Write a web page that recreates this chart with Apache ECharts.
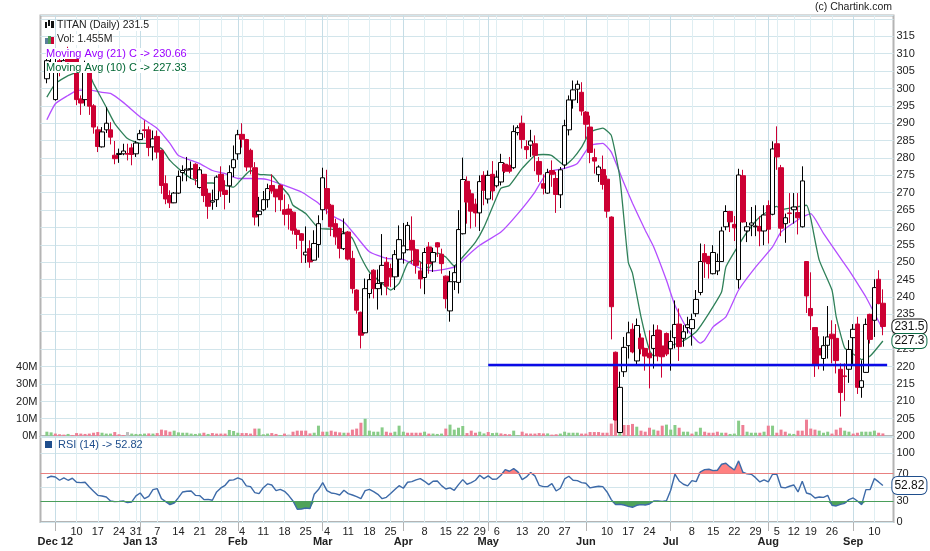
<!DOCTYPE html>
<html><head><meta charset="utf-8">
<style>html,body{margin:0;padding:0;background:#fff}#c{width:930px;height:551px}</style>
<script src="https://cdn.jsdelivr.net/npm/echarts@6/dist/echarts.min.js"></script>
</head><body><div id="c"></div>
<script>
// [open, close, low, high] per trading day
const candles = [
[302.8,308,301.5,310],[305,307,304.5,309],[296.8,306,296.5,309],[308,305,303.5,309],[305,308,304.5,311],[311,307,305,312],[310,306,305,311],[309,296.8,295.2,310],[297,295.8,292.4,298],[296.8,306,295,308],
[306,294.9,292.4,307],[295,288.9,287,295.5],[288.1,283.3,281.7,289.1],[283.2,287.5,283,288.9],[288.1,290,287.2,294.6],[288.1,286,283.9,290.3],[280.8,279.8,278.2,284.9],[281,281.3,278.6,282.7],[281.2,282,280.8,284.1],[281.3,281.1,279.3,284.1],
[282.9,281,277.9,284.1],[281.2,284.3,280.3,284.9],[285.3,287,285.1,288.1],[288.1,287.9,285.8,290.8],[288.1,283,280.5,289.1],[283.2,285.5,279.3,287.9],[286.2,281.7,279.8,287.9],[282.2,272.1,269.7,282.4],[272.6,268.2,266.7,275],[269.2,267.1,265.6,270.7],
[267.1,269.9,267,270.2],[269.9,274.7,269.7,276.4],[275.8,276.4,273.3,277.9],[276.5,276.8,273.3,280.3],[276.8,276.9,274,279],[278.2,274.1,272.2,278.5],[271.5,276.6,271.2,277.4],[275.3,269.2,267.3,275.4],[269.8,266.1,262.5,271.2],[267.3,267.7,265.1,270.9],
[268,274.5,265.9,275],[275.3,270.5,268.8,277.6],[270.7,269.5,265.2,273.6],[272,275.8,267.1,277.9],[277.2,279.5,274.5,283.6],[281.2,286.7,279.5,288.1],[286.8,285.4,283,290],[285.3,277.4,276.2,285.5],[282.2,277.4,275.3,282.7],[277.2,263,260.6,278.8],
[263.7,264.7,260.3,268.8],[265.1,268,264.7,270.5],[268,271.2,265.7,272.6],[272.1,270.5,269.7,275.3],[271,268.8,264.4,271.1],[272.1,268,264.7,272.4],[265.1,263.8,260.6,269.5],[265.3,263.8,259.4,266.7],[264.4,259.2,258,264.7],[259.2,258,253.8,259.7],
[258.2,256.3,249.8,258.4],[252.1,252.9,249.8,260.3],[253.9,250.1,248.4,256.3],[250.6,255.4,250.4,259.2],[255.1,261.1,251.3,263.5],[265.1,274.3,262.1,277.2],[271.2,265.4,263.8,276.6],[266.4,260.2,257.5,266.8],[261.1,257.3,255,262.5],[259.7,254,251.1,260],
[253.9,258.2,253.5,262.6],[258.7,250.9,250.5,259],[251.1,242.4,241,253.3],[242,236.2,235.2,242.2],[235.6,229,225.2,235.8],[229.7,242.4,229.5,245.3],[241,245,239.6,246.7],[247.7,242.4,239.6,248],[242.4,243.9,236.4,247.9],[244.1,249.1,240.5,258.1],
[250,243.1,240.5,251.5],[248.2,245.8,242.9,249.6],[245.8,252.2,242,253.5],[250.9,256.5,245.8,260.6],[252.7,254.7,249.6,261.3],[253.6,260.6,253.4,261.6],[256.3,253.5,249.6,263.2],[253.6,249.1,246.7,253.9],[247.5,245.2,242.4,250.1],[245.6,252.8,240.8,254.1],
[254.4,249.6,246.7,255.8],[250.1,252.8,247.2,254.2],[255.6,254.4,251.5,255.8],[252.3,249.6,246.7,253.9],[246,239.5,236.7,246.2],[236,244.4,232.9,247.5],[244.4,247,242,249.1],[244.2,259.4,241,265],[258.2,273.8,258,280.1],[273.3,267.3,261.1,274.7],
[269.7,264.7,259.7,270.9],[266.7,264.2,260.2,268.3],[264.2,273.2,259,275],[275,270.7,266.4,276.2],[268.2,275,266.9,276.4],[275.3,270.5,267.8,279.1],[272,274.5,271.5,276.4],[273.1,278.7,272.1,281.2],[278.2,276.2,275.7,278.6],[277.9,276.2,275.6,280.3],
[277.2,287.6,276.8,289.4],[287.3,288.7,286.5,289.4],[290,285.3,282.7,292.2],[283.3,282.4,279.7,285.1],[283.7,284.9,280.3,288.1],[284.1,280.8,276.2,286.5],[279,275.3,273.1,280.3],[272.6,271.3,269.5,275.3],[269.9,275.8,269.7,276.9],[276.4,275.3,271.7,279.3],
[274.1,269.5,264.2,276],[269.4,276.6,265.6,277.4],[278,289.3,276.9,291],[288.1,296.7,286.5,298],[296.7,299.6,294.2,302.3],[299.8,301.2,295.8,302.3],[298.9,293.5,292.2,301.8],[293.2,289.7,285.5,293.5],[288.9,281.6,278.5,292.2],[280.1,279.1,275.5,282.7],
[275.2,277.4,273.1,277.9],[276.7,272.4,270.9,280.7],[273.9,264.7,262.8,275],[263,237.2,227.8,263.2],[224.1,204.6,204.5,224.3],[201,214,201,218.5],[218.5,225.5,217,228.5],[226,229.7,222.3,232.9],[230.7,224.2,223.8,232.4],[221.6,231.8,220.6,233.8],
[228.2,225.1,223.5,229.5],[225.2,223,218.8,225.4],[223.8,222.5,213.7,230.4],[225.2,228.9,219.4,232.1],[230.5,223,221.5,231.9],[225.9,222.8,216.8,230.4],[229.5,223.6,223,229.8],[225.1,227.2,218.8,230.4],[228.3,232.1,225.2,239],[232.2,225.7,221.6,236.7],
[228.1,230,225.7,231.9],[231.2,232,229.5,234.3],[230.9,233.5,226,235.2],[235.2,239.3,234.3,242],[241.3,250.2,240.5,255.4],[252.5,250.1,245.5,255.2],[251.7,249.6,245.3,251.8],[246.7,252.8,246.5,254.9],[247.5,250.2,246.3,252.5],[250.2,259,250.1,260.2],
[260.2,264.6,259.2,266.4],[264.6,261.6,258.7,264.8],[260.9,259.9,256.1,263.3],[245,275.1,242.4,276.9],[274.9,261.6,261.4,276.6],[259,260.2,255.8,261.6],[260.7,261.3,257.5,265.9],[260.2,260.4,257.5,266.4],[260.3,259,254.6,263.2],[259,263.6,254.9,266.4],
[266.3,259.5,255.4,267.8],[263.8,282.6,263.5,284.8],[284.1,280.3,276.6,289.1],[277.2,259.8,257.5,278],[261.1,262.8,255.6,264],[264.2,264,261.3,269.9],[265.1,265.9,261.1,269.9],[264.3,262.8,258,269.9],[260.2,273.4,260,277.6],[250.2,240.3,235.4,250.3],
[236.7,234.6,230.5,247.1],[231.2,220.7,217,231.3],[225.2,223.3,219.2,228.7],[222.3,226,218.8,228.7],[226.1,228.5,222.3,237.4],[229.3,228,220.9,233.3],[228.1,221.7,218,232.2],[219.2,212.5,205.6,220.9],[217.3,217.1,210.1,220.9],[219.2,224.9,215.3,227.6],
[228.3,230.7,220.4,232.2],[232.2,214,212.1,234.3],[214,215.9,211,221.8],[218.3,232.1,218.2,233.8],[235,227.8,226.6,235.2],[233.3,242.7,228.5,245.1],[245.1,238.1,237.9,247.7],[238.2,231.5,229,242.2]
];
// volume in millions
const volumes = [
2.5,2.1,1.4,1,0.8,1.2,0.6,1.7,1.4,1.2, 1.4,1.9,2.3,1.9,1.4,1.4,2.3,1,0.6,2.3, 1.4,1.2,1.2,1.4,1.5,1.4,1.7,3.7,3.3,2.5,
3.1,2.1,1.9,1.9,1.4,1.2,1.5,1.9,1.2,1.7, 1.4,1.4,1.4,3.5,2.9,1.9,1.7,1.7,1.4,4.3, 4.3,1,1.4,1.7,1.2,0.6,1.4,0.8,2.5,3.1,
3.1,3.1,1.5,1.9,6,2.5,2.5,3.1,2.5,2.1, 1.9,1.9,3.7,4.3,7.7,10,3.1,2.5,2.5,5, 2.5,1.9,2.5,6,2.5,1.9,1.9,1.9,1.9,2.5,
1.4,1.4,1.2,1.4,4.3,6.6,3.7,4.8,5.8,1.7, 3.1,1.9,2.5,1.5,2.3,1.7,1.9,1.5,1.2,1, 3.1,0.4,2.5,1.5,1.4,1.4,1.7,1.5,1.5,0.8,
1,1.4,2.5,1.9,1.9,1.9,1.4,1.4,2.3,2.3, 2.3,1.9,1.9,7.2,9.7,8.3,6.4,6.4,7,5.4, 3.1,2.5,4.8,3.7,3.1,6,6.6,3.7,6.4,4.8,
2.5,2.5,1.4,2.5,4.8,2.5,1.9,1.9,2.5,1.9, 1.9,1.2,1.4,8.9,6.4,2.5,1.9,1.9,1.9,2.5, 6,6,1.9,3.7,2.5,1.4,1.2,3.1,3.1,9.5,
4.3,3.7,3.1,1.9,2.5,1.4,3.7,4.8,3.1,2.5, 1.4,1.9,2.5,2.5,2.5,3.1,1.9,1.5
];
const volumeTone =
"ggrrrgrrrr"+"rrrgggrrrn"+"ggggrgrrrr"+"gggggggrgr"+"rrrgggrrrr"+"gggrrgrnrr"+"rrrggrgrrr"+"grrrrggggg"+"rrgggrrrrg"+"rgggrggggr"+
"rrggrggrrr"+"ggrrrrrrgr"+"rgggggrrrr"+"rrrrrgrrrg"+"rrrgrrgggr"+"ggrggrrrrg"+"rgggrgggrg"+"rgrrrggrrr"+"rrgggrrrgg"+"rrggggrr";
const rsi = [
63.8,66.2,65.2,60.4,63.8,60.4,63.3,57.5,57,57.5, 50.7,44.4,38.6,37.7,36.2,30.4,29.5,29.9,30.4,28,
29,37.7,42,33.8,37.2,46.9,48.3,33.8,29.5,25.1, 27.5,35.3,43.5,44.4,44.9,38.6,38.2,32.4,32.8,31.4,
43.5,49.3,53.1,60.4,60.9,63.8,61.3,52.2,51.2,42.5, 41.1,49.7,55.1,53.6,45.4,47.3,44.4,38.2,30.4,18.4,
18.8,20.3,19.3,40.1,46.9,57,45.4,42,41.1,39.1, 45.9,41.1,39.1,36.7,33.8,45.4,47.3,44,40.1,33.8,
35.7,41.1,46.9,52.6,48.8,57.5,58.4,60.9,62.8,58.9, 54.1,58.9,59.4,52.6,47.8,49.3,45.9,54.1,61.3,54.6,
57,60.4,67.6,62.8,66.7,61.8,62.3,67.6,75.8,73.4, 77.3,72.5,61.3,65.2,71.5,66.7,53.1,51.2,51.2,55.5,
44.9,48.8,62.3,66.2,60.4,59.9,57,56,49.3,50.7, 51.7,51.2,43.5,32.4,25.1,25.6,24.6,22.7,21.3,24.2,
25.1,24.6,26.1,30.4,30.4,29.9,30.9,45.9,69.1,59.4, 54.6,52.2,59.9,58.4,72.5,75.8,76.3,74.4,74.9,83.6,
85,79.7,75.3,88.4,72,69.6,69.1,64.2,58,60.9, 58,69.1,69.1,50.2,49.3,51.7,53.6,43.5,58.9,42,
40.1,34.8,36.2,35.7,38.6,24.2,23.2,25.6,27,32.4, 34.8,30.4,25.1,46.9,46.9,62.8,58,52.82
];
// moving averages: [trading-day number, value]
const ma10 = [[0,297.5],[2,301.4],[5,303.7],[8,305],[10,304],[11,301.4],[14,294.6],[16,289.9],[19,285.6],[22,284.2],[24,284.2],[27,282.7],[29,279.3],[31,277],[34,274.1],[37,272.8],[39,272.8],[42,272.1],[44,271.6],[46,274.1],[48,276.4],[50,275.3],[53,275],[55,272.1],[57,269.3],[58,266.4],[61,264],[64,259.8],[67,259.5],[70,258.6],[72,256.9],[74,251.5],[76,247.2],[79,243.9],[81,242],[83,243.9],[85,249.7],[87,250.8],[90,248.3],[92,252.7],[94,251.5],[96,248.9],[98,251.5],[101,255.8],[103,260.1],[106,268.8],[107,271.3],[109,272.1],[112,277],[115,280.7],[117,281],[119,280.7],[122,277.9],[124,279.9],[126,283.1],[128,287.4],[131,288.6],[133,286.5],[135,274.5],[137,250],[138,246.8],[140,234.3],[142,224.7],[143,223],[146,225.7],[148,226.4],[150,227.4],[153,230],[156,235.3],[159,241.5],[160,248.6],[163,254.9],[165,258.7],[168,263],[172,266.1],[173,265.2],[176,265.8],[179,266.4],[180,262.6],[182,250.6],[185,242],[186,234.3],[188,225.3],[190,223.6],[192,222],[194,223],[197,227.33]];
const ma21 = [[0,291],[2,295.6],[5,298],[7,299.4],[10,299.6],[13,298.9],[15,298.6],[18,296],[22,291.8],[26,288.5],[29,284.2],[31,280.7],[36,278.4],[39,276.4],[42,275.5],[45,274.1],[48,274.1],[52,273.8],[56,272.1],[60,270.2],[64,267],[67,263.5],[70,261.6],[73,257.3],[76,253],[80,251.1],[84,250.8],[88,248.2],[91,247.5],[95,248.3],[97,249.1],[98,250.6],[102,254.9],[107,258.7],[111,264],[115,270.2],[118,276],[122,277],[125,278.4],[128,283.6],[131,284.2],[133,281.7],[136,272.7],[138,267],[141,259.2],[143,254.4],[146,244.8],[148,237.6],[151,230.5],[154,226.7],[155,227.6],[157,231.4],[160,234.3],[163,242],[167,248.6],[171,254.4],[173,258.7],[178,263],[180,264],[183,258.3],[186,253],[189,247.7],[191,243.9],[193,240],[195,235.3],[197,230.66]];
const supportLevel = 220.4, supportFrom = 104, supportTo = 198;
const weekDays = [7,12,17,21,26,31,36,41,46,51,56,61,66,71,76,81,89,94,98,102,106,112,117,122,132,137,142,152,157,162,167,172,176,180,185,195];
const weekTicks = ["10","17","24","31","7","14","21","28","4","11","18","25","4","11","18","25","8","15","22","29","6","13","20","27","10","17","24","8","15","22","29","5","12","19","26","10"];
const monthDays = [2,22,45,65,84,104,127,147,170,190];
const monthTicks = ["Dec 12","Jan 13","Feb","Mar","Apr","May","Jun","Jul","Aug","Sep"];

const PAD = 1, TAIL = 2, N = candles.length + PAD + TAIL;
const cats = Array.from({length:N},(_,i)=>'c'+i);
const weekText = {}, monthText = {};
weekDays.forEach((d,i)=>weekText['c'+(d+PAD)]=weekTicks[i]);
monthDays.forEach((d,i)=>monthText['c'+(d+PAD)]=monthTicks[i]);
const isWeek = (i,v)=>v in weekText, isMonth = (i,v)=>v in monthText;
const pad = a => [...Array(PAD).fill('-'), ...a, ...Array(TAIL).fill('-')];
const shift = a => a.map(p=>[p[0]+PAD,p[1]]);
const FONT = 'Liberation Sans, Arial, sans-serif';
const GREY = '#b4b4b4', WEEK = '#dfeef2', MONTH = '#c6dde6', HLINE = '#d2e5eb';
const RED = '#cc0033', PURPLE = '#b44dff', GREEN = '#2f8058', NAVY = '#1f4e8c';
const last = N-1;

const xBase = (grid,fn,col,extra)=>Object.assign({
  type:'category', gridIndex:grid, data:cats, boundaryGap:true, position:'bottom',
  axisLine:{show:false}, axisTick:{show:false}, axisLabel:{show:false},
  splitLine:{show:true, alignWithLabel:true, interval:fn, lineStyle:{color:col,width:1}}
},extra||{});
const boxLabel = (txt,col)=>({show:true,position:'right',distance:1,formatter:txt,color:'#111',fontFamily:FONT,fontSize:12,
  backgroundColor:'#fff',borderColor:col,borderWidth:1,borderRadius:5,padding:[1,2,0,2],lineHeight:13});

const option = {
  animation:false, backgroundColor:'#fff', textStyle:{fontFamily:FONT},
  grid:[
    {left:40.5,width:853,top:15.5,height:420.5,show:true,backgroundColor:'#fff',borderColor:GREY,borderWidth:2},
    {left:40.5,width:853,top:437,height:85,show:true,backgroundColor:'#fff',borderColor:GREY,borderWidth:2}
  ],
  xAxis:[
    xBase(0,isWeek,WEEK),
    xBase(0,isMonth,MONTH),
    xBase(1,isWeek,WEEK,{axisLabel:{show:true,interval:isWeek,formatter:v=>weekText[v]||'',fontSize:11,color:'#222',margin:4,fontFamily:FONT}}),
    xBase(1,isMonth,MONTH,{axisTick:{show:true,alignWithLabel:true,interval:isMonth,length:9,lineStyle:{color:GREY,width:1}},
      axisLabel:{show:true,interval:isMonth,formatter:v=>monthText[v]||'',fontSize:11,fontWeight:'bold',color:'#222',margin:14,fontFamily:FONT}})
  ],
  yAxis:[
    {type:'value',gridIndex:0,position:'right',min:200,max:321,interval:5,axisLine:{show:false},axisTick:{show:false},
     axisLabel:{margin:3,fontSize:11,color:'#222',fontFamily:FONT,formatter:v=>v<=315?String(v):''},splitLine:{lineStyle:{color:HLINE}}},
    {type:'value',gridIndex:0,position:'left',min:0,max:244,interval:10,axisLine:{show:false},axisTick:{show:false},
     axisLabel:{margin:3,fontSize:11,color:'#222',fontFamily:FONT,formatter:v=>v<=40?v+'M':''},splitLine:{show:false}},
    {type:'value',gridIndex:1,position:'right',min:0,max:123,interval:50,axisLine:{show:false},axisTick:{show:false},
     axisLabel:{customValues:[0,30,70,100],margin:3,fontSize:11,fontFamily:FONT,
       color:v=>v===70?'#e87878':v===30?'#4a9e5a':'#222'},splitLine:{lineStyle:{color:HLINE}}}
  ],
  series:[
    {name:'Volume',type:'bar',xAxisIndex:0,yAxisIndex:1,barWidth:3,z:2,
     data:pad(volumes.map((v,i)=>({value:v,itemStyle:{color:{g:'#88cc88',r:'#ee7f95',n:'#bdbdbd'}[volumeTone[i]]}})))},
    {name:'MA21',type:'line',xAxisIndex:0,yAxisIndex:0,data:shift(ma21),smooth:0.15,showSymbol:false,z:3,lineStyle:{color:PURPLE,width:1.3}},
    {name:'MA10',type:'line',xAxisIndex:0,yAxisIndex:0,data:shift(ma10),smooth:0.15,showSymbol:false,z:3,lineStyle:{color:GREEN,width:1.3}},
    {name:'TITAN',type:'candlestick',xAxisIndex:0,yAxisIndex:0,barWidth:5,z:4,data:pad(candles),
     itemStyle:{color:'#fff',color0:RED,borderColor:'#000',borderColor0:RED,borderWidth:1}},
    {name:'Support',type:'line',xAxisIndex:0,yAxisIndex:0,z:5,showSymbol:false,
     data:[[supportFrom+PAD,supportLevel],[supportTo+PAD,supportLevel]],lineStyle:{color:'#0a0ae6',width:2.5}},
    {name:'tags',type:'line',xAxisIndex:0,yAxisIndex:0,z:6,data:[],showSymbol:false,
     markPoint:{symbol:'circle',symbolSize:0,silent:true,data:[
       {coord:[last,candles[candles.length-1][1]],label:boxLabel('231.5','#111')},
       {coord:[last,ma10[ma10.length-1][1]],label:boxLabel('227.3','#0b6b45')}
     ]}},
    {name:'RSIover',type:'line',xAxisIndex:2,yAxisIndex:2,data:pad(rsi.map(v=>Math.max(v,70))),showSymbol:false,z:3,
     lineStyle:{width:0},areaStyle:{origin:70,color:'#ff8080',opacity:1}},
    {name:'RSIunder',type:'line',xAxisIndex:2,yAxisIndex:2,data:pad(rsi.map(v=>Math.min(v,30))),showSymbol:false,z:3,
     lineStyle:{width:0},areaStyle:{origin:30,color:'#4fa35a',opacity:1}},
    {name:'RSI',type:'line',xAxisIndex:2,yAxisIndex:2,data:pad(rsi),showSymbol:false,z:4,lineStyle:{color:'#3d6aa8',width:1.4},
     markLine:{silent:true,symbol:'none',label:{show:false},animation:false,data:[
       {yAxis:70,lineStyle:{color:'#e88080',width:1,type:'solid'}},
       {yAxis:30,lineStyle:{color:'#4a9e5a',width:1,type:'solid'}}]},
     markPoint:{symbol:'circle',symbolSize:0,silent:true,data:[
       {coord:[last,rsi[rsi.length-1]],label:Object.assign(boxLabel('52.82',NAVY),{padding:[2,2,2,2],fontSize:12})}]}}
  ],
  graphic:[
    {type:'text',left:815,top:2,z:100,style:{text:'(c) Chartink.com',font:'10.5px '+FONT,fill:'#222'}},
    {type:'rect',left:45,top:22,z:100,shape:{width:2,height:6},style:{fill:'#111'}},
    {type:'rect',left:48,top:20,z:100,shape:{width:2,height:6},style:{fill:'#111'}},
    {type:'rect',left:51,top:21,z:100,shape:{width:3,height:7},style:{fill:'#111'}},
    {type:'rect',left:45,top:38,z:100,shape:{width:3,height:6},style:{fill:'#5a7f9a'}},
    {type:'rect',left:48,top:36,z:100,shape:{width:3,height:8},style:{fill:'#4a9a5a'}},
    {type:'rect',left:51,top:37,z:100,shape:{width:3,height:7},style:{fill:RED}},
    {type:'text',left:57,top:20,z:100,style:{text:'TITAN (Daily) 231.5',font:'10.5px '+FONT,fill:'#222',backgroundColor:'#fff'}},
    {type:'text',left:57,top:34,z:100,style:{text:'Vol: 1.455M',font:'10.5px '+FONT,fill:'#222',backgroundColor:'#fff'}},
    {type:'text',left:46,top:48,z:100,style:{text:'Moving Avg (21) C -> 230.66',font:'11px '+FONT,fill:'#9900ff',backgroundColor:'#fff'}},
    {type:'text',left:46,top:62,z:100,style:{text:'Moving Avg (10) C -> 227.33',font:'11px '+FONT,fill:'#006633',backgroundColor:'#fff'}},
    {type:'rect',left:45,top:441,z:100,shape:{width:7,height:7},style:{fill:NAVY}},
    {type:'text',left:58,top:439,z:100,style:{text:'RSI (14) -> 52.82',font:'11px '+FONT,fill:NAVY}}
  ]
};
const chart = echarts.init(document.getElementById('c'),null,{renderer:'canvas'});
chart.setOption(option);
</script></body></html>
